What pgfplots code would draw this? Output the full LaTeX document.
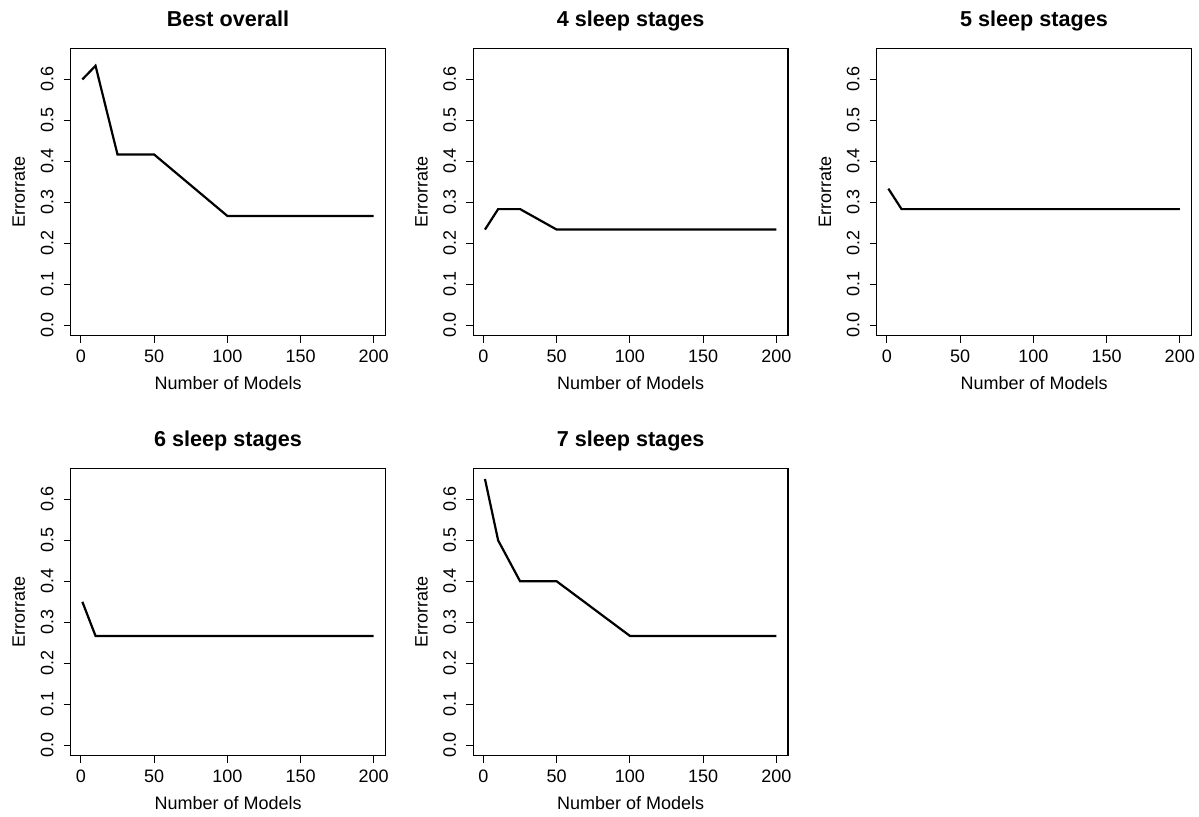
\documentclass[border=0pt]{standalone}
\usepackage{pgfplots}
\pgfplotsset{compat=1.18}
\usepackage{fontspec}
\setmainfont{Liberation Sans}

\pgfplotsset{
  rpanel/.style={
    scale only axis,
    width=157.35pt, height=143.75pt,
    anchor=south west,
    xmin=-6.96, xmax=207.96,
    ymin=-0.026, ymax=0.676,
    xtick={0,50,100,150,200},
    ytick={0,0.1,0.2,0.3,0.4,0.5,0.6},
    yticklabels={0.0,0.1,0.2,0.3,0.4,0.5,0.6},
    xtick pos=bottom, ytick pos=left,
    tick align=outside,
    major tick length=3.6pt,
    tick style={black, line width=0.5pt},
    axis line style={line width=0.6pt},
    /pgf/number format/assume math mode=true,
    ticklabel style={font=\fontsize{9}{10.8}\selectfont},
    xticklabel style={anchor=base},
    xticklabel shift=9.9pt,
    yticklabel style={rotate=90, anchor=base},
    yticklabel shift=5.1pt,
    title style={at={(axis description cs:0.5,1)}, anchor=base, yshift=4.8pt,
      font=\bfseries\fontsize{10.8}{13}\selectfont},
    xlabel={Number of Models},
    xlabel style={at={(axis description cs:0.5,0)}, anchor=base, yshift=-27pt,
      font=\fontsize{9}{10.8}\selectfont},
    ylabel={Errorrate},
    ylabel style={at={([xshift=-22.85pt]axis description cs:0,0.5)}, rotate=0, anchor=base,
      font=\fontsize{9}{10.8}\selectfont},
  },
  errline/.style={black, line width=1.1pt, mark=none},
}

\begin{document}
\begin{tikzpicture}
\begin{axis}[rpanel, at={(35.35pt,240.6pt)}, title={Best overall}]
\addplot[errline] coordinates {(1,0.6) (10,0.6333) (25,0.4167) (50,0.4167) (100,0.2667) (200,0.2667)};
\end{axis}
\begin{axis}[rpanel, at={(236.65pt,240.6pt)}, title={4 sleep stages}]
\addplot[errline] coordinates {(1,0.2333) (10,0.2833) (25,0.2833) (50,0.2333) (100,0.2333) (200,0.2333)};
\end{axis}
\begin{axis}[rpanel, at={(438.35pt,240.6pt)}, title={5 sleep stages}]
\addplot[errline] coordinates {(1,0.3333) (10,0.2833) (25,0.2833) (50,0.2833) (100,0.2833) (200,0.2833)};
\end{axis}
\begin{axis}[rpanel, at={(35.35pt,30.6pt)}, title={6 sleep stages}]
\addplot[errline] coordinates {(1,0.35) (10,0.2667) (25,0.2667) (50,0.2667) (100,0.2667) (200,0.2667)};
\end{axis}
\begin{axis}[rpanel, at={(236.65pt,30.6pt)}, title={7 sleep stages}]
\addplot[errline] coordinates {(1,0.65) (10,0.5) (25,0.4) (50,0.4) (100,0.2667) (200,0.2667)};
\end{axis}
\pgfresetboundingbox
\path (0,0) rectangle (599.5pt,408.5pt);
\end{tikzpicture}
\end{document}
